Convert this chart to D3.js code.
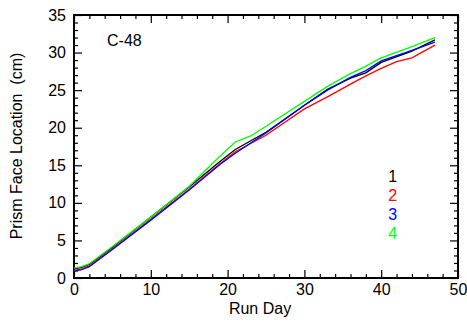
<!DOCTYPE html>
<html>
<head>
<meta charset="utf-8">
<script src="https://d3js.org/d3.v7.min.js"></script>
<style>
  body { margin: 0; background: #fff; }
  text { font-family: "Liberation Sans", Arial, sans-serif; white-space: pre; }
</style>
</head>
<body>
<div id="chart"></div>
<script>
const days1 = [0, 1, 2, 5, 10, 15, 19, 21, 25, 30, 33, 36, 38, 40, 44, 47];
const run1  = [1.2, 1.4, 1.8, 4.1, 8.1, 12.1, 15.5, 17.1, 19.4, 23.0, 25.1, 26.6, 27.3, 28.7, 30.2, 31.7];

const days2 = [0, 1, 2, 5, 10, 15, 19, 21, 25, 30, 33, 36, 38, 40, 42, 44, 47];
const run2  = [1.0, 1.2, 1.6, 3.9, 7.8, 11.8, 15.2, 16.8, 19.0, 22.5, 24.1, 25.8, 26.9, 27.9, 28.8, 29.3, 31.0];

const days3 = [0, 1, 2, 5, 10, 15, 19, 21, 25, 30, 33, 36, 38, 40, 44, 47];
const run3  = [0.9, 1.1, 1.5, 3.8, 7.7, 11.7, 15.1, 16.6, 19.3, 23.0, 25.0, 26.7, 27.6, 28.9, 30.3, 31.4];

const days4 = [0, 1, 2, 5, 10, 15, 19, 21, 23, 25, 30, 33, 36, 38, 40, 44, 47];
const run4  = [1.3, 1.5, 1.9, 4.2, 8.1, 12.2, 16.2, 18.1, 18.9, 20.2, 23.5, 25.5, 27.2, 28.2, 29.3, 30.8, 32.0];

const seriesNames = ['1', '2', '3', '4'];
const seriesColors = ['#000000', '#ff0000', '#0000ff', '#00ff00'];

const xTicks = [0, 10, 20, 30, 40, 50];
const yTicks = [0, 5, 10, 15, 20, 25, 30, 35];

const W = 467, H = 324;
let margin = { top: 15, right: 9, bottom: 46, left: 74 },
    width = W - margin.left - margin.right,
    height = H - margin.top - margin.bottom;

let svg = d3.select('#chart')
  .append('svg')
  .attr('width', W)
  .attr('height', H)
  .append('g')
  .attr('transform', `translate(${margin.left}, ${margin.top})`);

let xScale = d3.scaleLinear().domain([0, 50]).range([0, width]);
let yScale = d3.scaleLinear().domain([0, 35]).range([height, 0]);

const minorX = d3.range(0, 51, 2).filter(d => d % 10 !== 0);
const minorY = d3.range(0, 36, 1).filter(d => d % 5 !== 0);

// major + minor ticks, all pointing inward
function drawAxis(axisFn, scale, ticks, minor, transform, labels) {
  let g = svg.append('g').attr('transform', transform);
  g.call(axisFn(scale).tickValues(ticks).tickSize(-8).tickPadding(labels ? 6 : 0)
    .tickFormat(labels ? d3.format('d') : ''));
  g.append('g').call(axisFn(scale).tickValues(minor).tickSize(-4).tickFormat(''));
  g.selectAll('.domain').remove();
  g.selectAll('line').attr('stroke', '#000').attr('stroke-width', 1.2);
  g.selectAll('text').style('font-size', '16px').attr('fill', '#000');
  return g;
}

drawAxis(d3.axisBottom, xScale, xTicks, minorX, `translate(0, ${height})`, true);
drawAxis(d3.axisTop, xScale, xTicks, minorX, 'translate(0, 0)', false);
let yAx = drawAxis(d3.axisLeft, yScale, yTicks, minorY, 'translate(0, 0)', true);
yAx.selectAll('text').attr('x', -8);
drawAxis(d3.axisRight, yScale, yTicks, minorY, `translate(${width}, 0)`, false);

svg.append('rect')
  .attr('width', width)
  .attr('height', height)
  .attr('fill', 'none')
  .attr('stroke', '#000')
  .attr('stroke-width', 2);

const allDays = [days1, days2, days3, days4];
const allRuns = [run1, run2, run3, run4];

let line = d3.line()
  .x(d => xScale(d[0]))
  .y(d => yScale(d[1]));

allRuns.forEach((vals, i) => {
  svg.append('path')
    .datum(vals.map((v, j) => [allDays[i][j], v]))
    .attr('fill', 'none')
    .attr('stroke', seriesColors[i])
    .attr('stroke-width', 1.3)
    .attr('d', line);
});

// legend
seriesNames.forEach((name, i) => {
  svg.append('text')
    .attr('x', xScale(41.5))
    .attr('y', yScale(13.5) + i * 19)
    .attr('text-anchor', 'middle')
    .attr('dy', '0.36em')
    .style('font-size', '16px')
    .attr('fill', seriesColors[i])
    .text(name);
});

svg.append('text')
  .attr('x', xScale(4.3))
  .attr('y', yScale(31.6))
  .attr('dy', '0.36em')
  .style('font-size', '16px')
  .text('C-48');

svg.append('text')
  .attr('x', 186)
  .attr('y', height + 36)
  .attr('text-anchor', 'middle')
  .style('font-size', '16px')
  .text('Run Day');

svg.append('text')
  .attr('transform', 'rotate(-90)')
  .attr('x', -(146 - margin.top))
  .attr('y', -52)
  .attr('text-anchor', 'middle')
  .style('font-size', '16px')
  .text('Prism Face Location  (cm)');
</script>
</body>
</html>
